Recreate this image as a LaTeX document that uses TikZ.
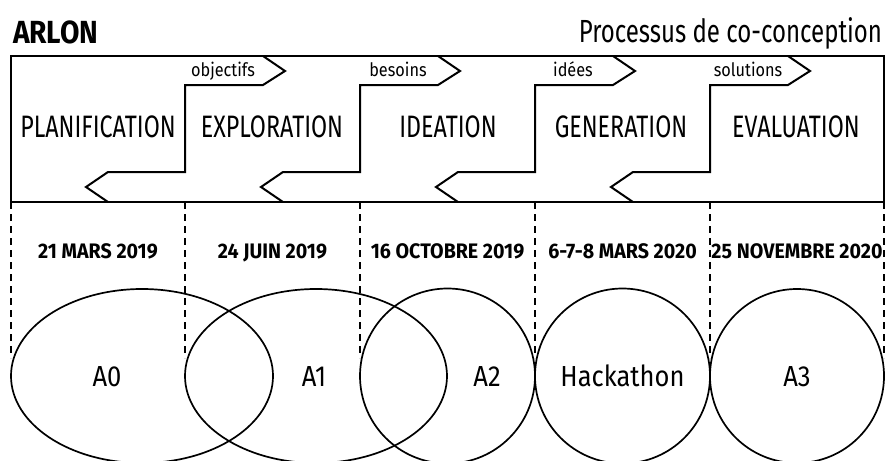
\documentclass[tikz,border=0pt]{standalone}
\usepackage{fontspec}
\setmainfont{Fira Sans}[FakeStretch=0.75]
\newfontfamily\largefont{Fira Sans}[FakeStretch=0.88]
\newfontfamily\datefont{Fira Sans}[FakeStretch=0.935]
\usetikzlibrary{shapes.geometric}

\begin{document}
\begin{tikzpicture}[x=1pt,y=-1pt,line width=2pt,
    phase/.style={anchor=base,inner sep=0pt,font=\fontsize{31pt}{31pt}\selectfont},
    flow/.style={anchor=base,inner sep=0pt,font=\largefont\fontsize{18.5pt}{18.5pt}\selectfont},
    date/.style={anchor=base,inner sep=0pt,font=\datefont\bfseries\fontsize{21pt}{21pt}\selectfont},
    atelier/.style={anchor=base,inner sep=0pt,font=\largefont\fontsize{29pt}{29pt}\selectfont},
    bulle/.style={ellipse,draw,line width=1.7pt,inner sep=0pt}]
  \useasboundingbox (0,0) rectangle (885,460);
  \clip (0,0) rectangle (885,460);

  % titres
  \node[anchor=base west,inner sep=0pt,font=\largefont\bfseries\fontsize{32pt}{32pt}\selectfont] (arlon) at (12,44) {ARLON};
  \node[anchor=base east,inner sep=0pt,font=\fontsize{32pt}{32pt}\selectfont] (processus) at (883,43) {Processus de co-conception};

  % cadre des phases
  \draw (11,56) rectangle (884,202);
  \foreach \d/\lab [count=\i] in {185/objectifs,360/besoins,535/idées,710/solutions}{
    \draw[line join=miter] (\d+78,56) -- (\d+100,71) -- (\d+78,85) -- (\d,85) -- (\d,172)
      -- (\d-77,172) -- (\d-99,187) -- (\d-77,202);
    \node[flow] (flow\i) at (\d+38,77) {\lab};
  }
  \node[phase] (planif) at (98,137) {PLANIFICATION};
  \node[phase] (explo) at (272,137) {EXPLORATION};
  \node[phase] (ideation) at (448,137) {IDEATION};
  \node[phase] (generation) at (621,137) {GENERATION};
  \node[phase] (evaluation) at (796,137) {EVALUATION};

  % separations
  \foreach \x in {11,185,360,535,710,884}
    \draw[dash pattern=on 7pt off 5pt] (\x,202) -- (\x,358);

  % dates
  \node[date] (d1) at (98,258) {21 MARS 2019};
  \node[date] (d2) at (272.5,258) {24 JUIN 2019};
  \node[date] (d3) at (447.5,258) {16 OCTOBRE 2019};
  \node[date] (d4) at (622.5,258) {6-7-8 MARS 2020};
  \node[date] (d5) at (797,258) {25 NOVEMBRE 2020};

  % ateliers
  \node[bulle,minimum width=262pt,minimum height=174pt] (a0) at (142,376) {};
  \node[bulle,minimum width=262pt,minimum height=174pt] (a1) at (316,376) {};
  \node[bulle,circle,minimum size=175pt] (a2) at (447.5,376) {};
  \node[bulle,circle,minimum size=175pt] (hack) at (622.5,376) {};
  \node[bulle,circle,minimum size=174pt] (a3) at (797,376) {};
  \node[atelier] (t0) at (107,386) {A0};
  \node[atelier] (t1) at (314,386) {A1};
  \node[atelier] (t2) at (487,386) {A2};
  \node[atelier] (th) at (622.5,386) {Hackathon};
  \node[atelier] (t3) at (797,386) {A3};
\end{tikzpicture}
\end{document}
